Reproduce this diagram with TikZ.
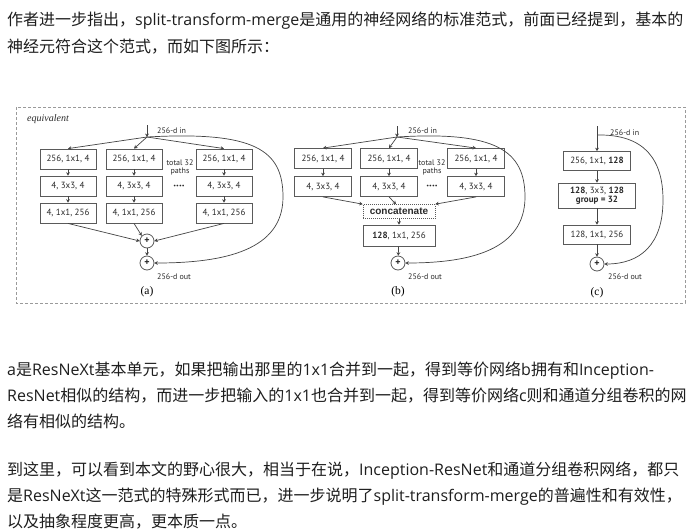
\documentclass[tikz,border=0pt]{standalone}
\usepackage{fontspec}
\setmainfont{Noto Sans CJK SC}
\newfontfamily\latf{Open Sans}
\newfontfamily\dsans{PT Sans}
\newfontfamily\dbold{Liberation Sans}
\newfontfamily\dserif{Liberation Serif}
\usetikzlibrary{arrows.meta}
\newcommand{\ltn}[1]{{\latf #1}}
\definecolor{txt}{HTML}{1E1E1E}
\definecolor{boxc}{HTML}{5A5A5A}
\definecolor{arrc}{HTML}{444444}
\definecolor{dtxt}{HTML}{2A2A2A}
\definecolor{framec}{HTML}{9A9A9A}
\tikzset{
  btxt/.style={anchor=base west, inner sep=0pt, text=txt, font=\fontsize{16}{20}\selectfont},
  blk/.style={draw=boxc, line width=0.8pt, inner sep=0pt, minimum height=20pt, text=dtxt, font=\dsans\fontsize{9}{10.5}\selectfont},
  plusc/.style={circle, draw=boxc, line width=0.8pt, minimum size=14pt, inner sep=0pt, text=dtxt, font=\dsans\bfseries\fontsize{10}{10}\selectfont},
  lbl/.style={inner sep=0pt, text=dtxt, font=\dsans\fontsize{8}{9}\selectfont},
  pcap/.style={inner sep=0pt, text=black, font=\dserif\fontsize{11.5}{12}\selectfont},
  arr/.style={draw=arrc, line width=0.7pt, -{Stealth[length=3.4pt,width=3.8pt]}},
  ln/.style={draw=arrc, line width=0.7pt}
}
\begin{document}
\begin{tikzpicture}[x=1pt,y=-1pt]
\useasboundingbox (0,0) rectangle (696,531);
\fill[white] (0,0) rectangle (696,531);
% ---------- top text
\node[btxt] (t1) at (7,25) {作者进一步指出，\ltn{split-transform-merge}是通用的神经网络的标准范式，前面已经提到，基本的};
\node[btxt] (t2) at (7,52.5) {神经元符合这个范式，而如下图所示：};
% ---------- frame
\draw[framec, line width=0.9pt, dash pattern=on 3pt off 2pt] (16,107) rectangle (685,303);
\node[anchor=west, inner sep=0pt, text=dtxt, font=\dserif\itshape\fontsize{10}{11}\selectfont] (eq) at (27,119) {equivalent};
% ---------- panel a
\coordinate (ain) at (147,125);
\coordinate (abr) at (147,137);
\foreach \c/\x in {1/68,2/134,3/224}{
  \node[blk, minimum width=56pt] (a\c1) at (\x,159) {256, 1x1, 4};
  \node[blk, minimum width=56pt] (a\c2) at (\x,186) {4, 3x3, 4};
  \node[blk, minimum width=56pt] (a\c3) at (\x,213) {4, 1x1, 256};
  \draw[arr] (a\c1) -- (a\c2);
  \draw[arr] (a\c2) -- (a\c3);
  \draw[arr] (abr) -- (a\c1.north);
}
\draw[arr] (ain) -- (abr);
\node[lbl, anchor=west] (ainl) at (157,131) {256-d in};
\node[lbl, align=center] (atot) at (180,167) {total 32\\[-1pt]paths};
\node[lbl, font=\dsans\bfseries\fontsize{11}{11}\selectfont] (adots) at (179,187) {····};
\node[plusc] (ap1) at (147,241) {+};
\node[plusc] (ap2) at (147,263) {+};
\draw[arr] (a13.south) -- (ap1.west);
\draw[arr] (a23.south) -- (ap1.north west);
\draw[arr] (a33.south) -- (ap1.east);
\draw[arr] (ap1) -- (ap2);
\draw[arr] (abr) .. controls (255,131) and (283,150) .. (283,197) .. controls (283,250) and (225,263) .. (ap2.east);
\node[lbl, anchor=west] (aout) at (157,277) {256-d out};
\node[pcap] (acap) at (147,292) {(a)};
% ---------- panel b
\coordinate (bin) at (397,126);
\coordinate (bbr) at (397,137);
\foreach \c/\x in {1/323,2/389,3/476}{
  \node[blk, minimum width=57pt] (b\c1) at (\x,158.5) {256, 1x1, 4};
  \node[blk, minimum width=57pt] (b\c2) at (\x,186.5) {4, 3x3, 4};
  \draw[arr] (b\c1) -- (b\c2);
  \draw[arr] (bbr) -- (b\c1.north);
}
\draw[arr] (bin) -- (bbr);
\node[lbl, anchor=west] (binl) at (408,131) {256-d in};
\node[lbl, align=center] (btot) at (432,167) {total 32\\[-1pt]paths};
\node[lbl, font=\dsans\bfseries\fontsize{11}{11}\selectfont] (bdots) at (432,187) {····};
\node[draw=boxc, line width=0.7pt, dash pattern=on 1pt off 1pt, minimum width=72pt, minimum height=14pt, inner sep=0pt, text=dtxt, font=\dbold\bfseries\fontsize{10}{10}\selectfont] (bcat) at (399,211.5) {concatenate};
\node[blk, minimum width=72pt, minimum height=21pt] (b128) at (399,235.5) {\textbf{128}, 1x1, 256};
\node[plusc] (bp) at (398,263) {+};
\draw[arr] (b12.south) -- (bcat.north west);
\draw[arr] (b22.south) -- ([xshift=-3pt]bcat.north);
\draw[arr] (b32.south) -- (bcat.north east);
\draw[arr] (bcat) -- (b128);
\draw[arr] (b128) -- (bp);
\draw[arr] (bbr) .. controls (495,131) and (525,150) .. (525,197) .. controls (525,250) and (470,263) .. (bp.east);
\node[lbl, anchor=west] (bout) at (408,277) {256-d out};
\node[pcap] (bcap) at (398,292) {(b)};
% ---------- panel c
\coordinate (cin) at (597,126);
\coordinate (cbr) at (597,135);
\node[blk, minimum width=67pt, minimum height=19pt] (c1) at (597,161) {256, 1x1, \textbf{128}};
\node[blk, minimum width=77pt, minimum height=25pt, align=center] (c2) at (597,195.5) {\textbf{128}, 3x3, \textbf{128}\\[-1.5pt]\textbf{group = 32}};
\node[blk, minimum width=67pt, minimum height=19pt] (c3) at (597,234.5) {128, 1x1, 256};
\node[plusc] (cp) at (597,264) {+};
\draw[ln] (cin) -- (cbr);
\draw[arr] (cbr) -- (c1.north);
\draw[arr] (c1) -- (c2);
\draw[arr] (c2) -- (c3);
\draw[arr] (c3) -- (cp);
\draw[arr] (cbr) .. controls (645,134) and (663,160) .. (663,200) .. controls (663,245) and (640,264) .. (cp.east);
\node[lbl, anchor=west] (cinl) at (610,133) {256-d in};
\node[lbl, anchor=west] (cout) at (608,277) {256-d out};
\node[pcap] (ccap) at (597,293) {(c)};
% ---------- bottom text
\node[btxt] (t3) at (7,375) {\ltn{a}是\ltn{ResNeXt}基本单元，如果把输出那里的\ltn{1x1}合并到一起，得到等价网络\ltn{b}拥有和\ltn{Inception-}};
\node[btxt] (t4) at (7,401.5) {\ltn{ResNet}相似的结构，而进一步把输入的\ltn{1x1}也合并到一起，得到等价网络\ltn{c}则和通道分组卷积的网};
\node[btxt] (t5) at (7,427.5) {络有相似的结构。};
\node[btxt] (t6) at (7,475) {到这里，可以看到本文的野心很大，相当于在说，\ltn{Inception-ResNet}和通道分组卷积网络，都只};
\node[btxt] (t7) at (7,501) {是\ltn{ResNeXt}这一范式的特殊形式而已，进一步说明了\ltn{split-transform-merge}的普遍性和有效性，};
\node[btxt] (t8) at (7,527) {以及抽象程度更高，更本质一点。};
\end{tikzpicture}
\end{document}
